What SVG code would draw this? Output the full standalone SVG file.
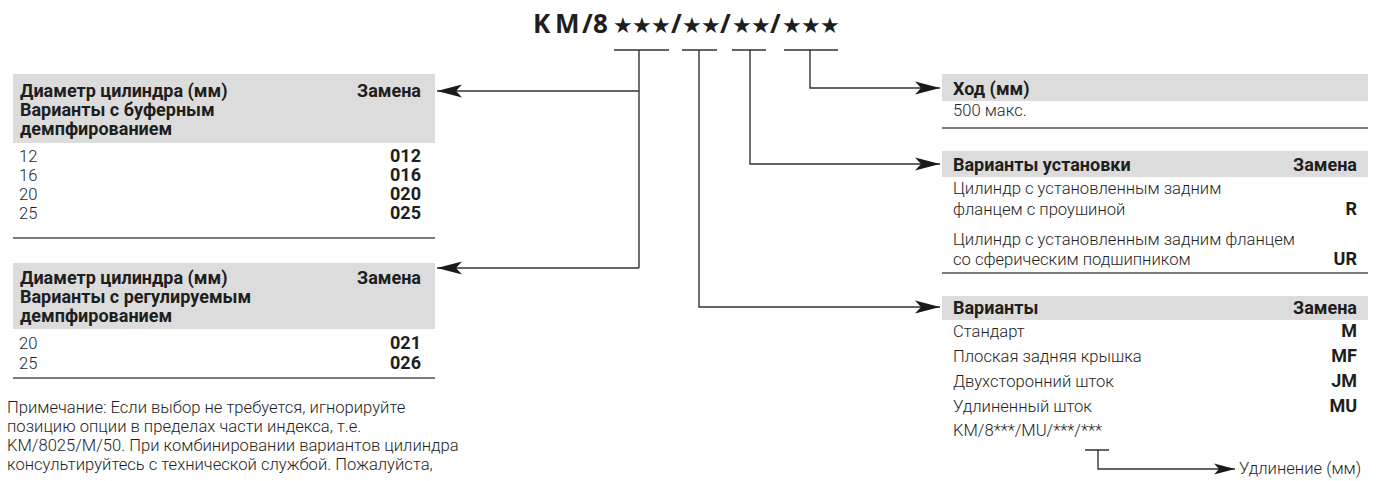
<svg xmlns="http://www.w3.org/2000/svg" width="1377" height="481" viewBox="0 0 1377 481">
  <style>
    text { font-family: Roboto, "Noto Sans", "DejaVu Sans", sans-serif; fill: #1e1e1e; }
    .t { font-size: 16.6px; font-weight: 300; }
    .b { font-size: 18px; font-weight: 700; }
    .r { text-anchor: end; }
    .title { font-family: "Open Sans", "DejaVu Sans", sans-serif; font-size: 26px; font-weight: 700; }
    .star { font-family: "DejaVu Sans", sans-serif; font-size: 22px; }
    .hd { fill: #dcdcdc; }
    .rule { stroke: #7a7a7a; stroke-width: 2; fill: none; }
    .conn { stroke: #333; stroke-width: 1.4; fill: none; }
  </style>
  <defs>
    <marker id="arrow" viewBox="-26 -8 28 16" refX="0" refY="0" markerWidth="28" markerHeight="16" markerUnits="userSpaceOnUse" orient="auto">
      <path d="M0,0 L-25,-6.5 L-19,0 L-25,6.5 Z" fill="#1a1a1a"/>
    </marker>
    <marker id="arrowSmall" viewBox="-22 -7 24 14" refX="0" refY="0" markerWidth="24" markerHeight="14" markerUnits="userSpaceOnUse" orient="auto">
      <path d="M0,0 L-21,-5.5 L-16,0 L-21,5.5 Z" fill="#1a1a1a"/>
    </marker>
  </defs>

  <!-- order code -->
  <g id="code">
    <text class="title" y="33"><tspan x="533">K</tspan><tspan x="555">M</tspan><tspan x="582">/</tspan><tspan x="593">8</tspan><tspan class="star" x="613">★</tspan><tspan class="star" x="632">★</tspan><tspan class="star" x="651">★</tspan><tspan x="671">/</tspan><tspan class="star" x="682">★</tspan><tspan class="star" x="701">★</tspan><tspan x="720">/</tspan><tspan class="star" x="732">★</tspan><tspan class="star" x="751">★</tspan><tspan x="770">/</tspan><tspan class="star" x="782">★</tspan><tspan class="star" x="801">★</tspan><tspan class="star" x="820">★</tspan></text>
  </g>

  <!-- connectors -->
  <g id="connectors">
    <path class="conn" d="M614,50 H669 M682,50 H717 M732,50 H766 M784,50 H838"/>
    <path class="conn" d="M639,50 V268"/>
    <path class="conn" d="M639,91 H437" marker-end="url(#arrow)"/>
    <path class="conn" d="M639,268 H437" marker-end="url(#arrow)"/>
    <path class="conn" d="M699,50 V307 H940" marker-end="url(#arrow)"/>
    <path class="conn" d="M750,50 V164 H940" marker-end="url(#arrow)"/>
    <path class="conn" d="M810,50 V88 H940" marker-end="url(#arrow)"/>
    <path class="conn" d="M1085,450 H1109 M1098,450 V469 H1235" marker-end="url(#arrowSmall)"/>
  </g>

  <!-- bore, buffer cushioning -->
  <g id="bore-buffer">
    <rect class="hd" x="13" y="74" width="422" height="69"/>
    <text class="b" x="20" y="97">Диаметр цилиндра (мм)</text>
    <text class="b r" x="421" y="97">Замена</text>
    <text class="b" x="20" y="116">Варианты с буферным</text>
    <text class="b" x="20" y="135">демпфированием</text>
    <text class="t" x="19" y="162">12</text><text class="b r" x="421" y="162">012</text>
    <text class="t" x="19" y="181">16</text><text class="b r" x="421" y="181">016</text>
    <text class="t" x="19" y="200">20</text><text class="b r" x="421" y="200">020</text>
    <text class="t" x="19" y="219">25</text><text class="b r" x="421" y="219">025</text>
    <path class="rule" d="M13,238 H435"/>
  </g>

  <!-- bore, adjustable cushioning -->
  <g id="bore-adjustable">
    <rect class="hd" x="13" y="263" width="422" height="66"/>
    <text class="b" x="20" y="284">Диаметр цилиндра (мм)</text>
    <text class="b r" x="421" y="284">Замена</text>
    <text class="b" x="20" y="303">Варианты с регулируемым</text>
    <text class="b" x="20" y="322">демпфированием</text>
    <text class="t" x="19" y="349">20</text><text class="b r" x="421" y="349">021</text>
    <text class="t" x="19" y="369">25</text><text class="b r" x="421" y="369">026</text>
    <path class="rule" d="M13,378 H435"/>
  </g>

  <!-- note -->
  <g id="note">
    <text class="t" x="7" y="413">Примечание: Если выбор не требуется, игнорируйте</text>
    <text class="t" x="7" y="432">позицию опции в пределах части индекса, т.е.</text>
    <text class="t" x="7" y="451">KM/8025/M/50. При комбинировании вариантов цилиндра</text>
    <text class="t" x="7" y="470">консультируйтесь с технической службой. Пожалуйста,</text>
  </g>

  <!-- stroke -->
  <g id="stroke">
    <rect class="hd" x="942" y="74" width="426" height="27"/>
    <text class="b" x="953" y="95">Ход (мм)</text>
    <text class="t" x="953" y="116">500 макс.</text>
    <path class="rule" d="M942,128 H1368"/>
  </g>

  <!-- mounting options -->
  <g id="mounting">
    <rect class="hd" x="942" y="151" width="426" height="26"/>
    <text class="b" x="953" y="171">Варианты установки</text>
    <text class="b r" x="1357" y="171">Замена</text>
    <text class="t" x="953" y="194">Цилиндр с установленным задним</text>
    <text class="t" x="953" y="215">фланцем с проушиной</text>
    <text class="b r" x="1357" y="215">R</text>
    <text class="t" x="953" y="245">Цилиндр с установленным задним фланцем</text>
    <text class="t" x="953" y="265">со сферическим подшипником</text>
    <text class="b r" x="1357" y="265">UR</text>
    <path class="rule" d="M942,273 H1368"/>
  </g>

  <!-- variants -->
  <g id="variants">
    <rect class="hd" x="942" y="296" width="426" height="24"/>
    <text class="b" x="953" y="314">Варианты</text>
    <text class="b r" x="1357" y="314">Замена</text>
    <text class="t" x="953" y="337">Стандарт</text><text class="b r" x="1357" y="337">M</text>
    <text class="t" x="953" y="362">Плоская задняя крышка</text><text class="b r" x="1357" y="362">MF</text>
    <text class="t" x="953" y="387">Двухсторонний шток</text><text class="b r" x="1357" y="387">JM</text>
    <text class="t" x="953" y="412">Удлиненный шток</text><text class="b r" x="1357" y="412">MU</text>
    <text class="t" x="953" y="436">KM/8***/MU/***/***</text>
    <text class="t" x="1239" y="474">Удлинение (мм)</text>
  </g>
</svg>
